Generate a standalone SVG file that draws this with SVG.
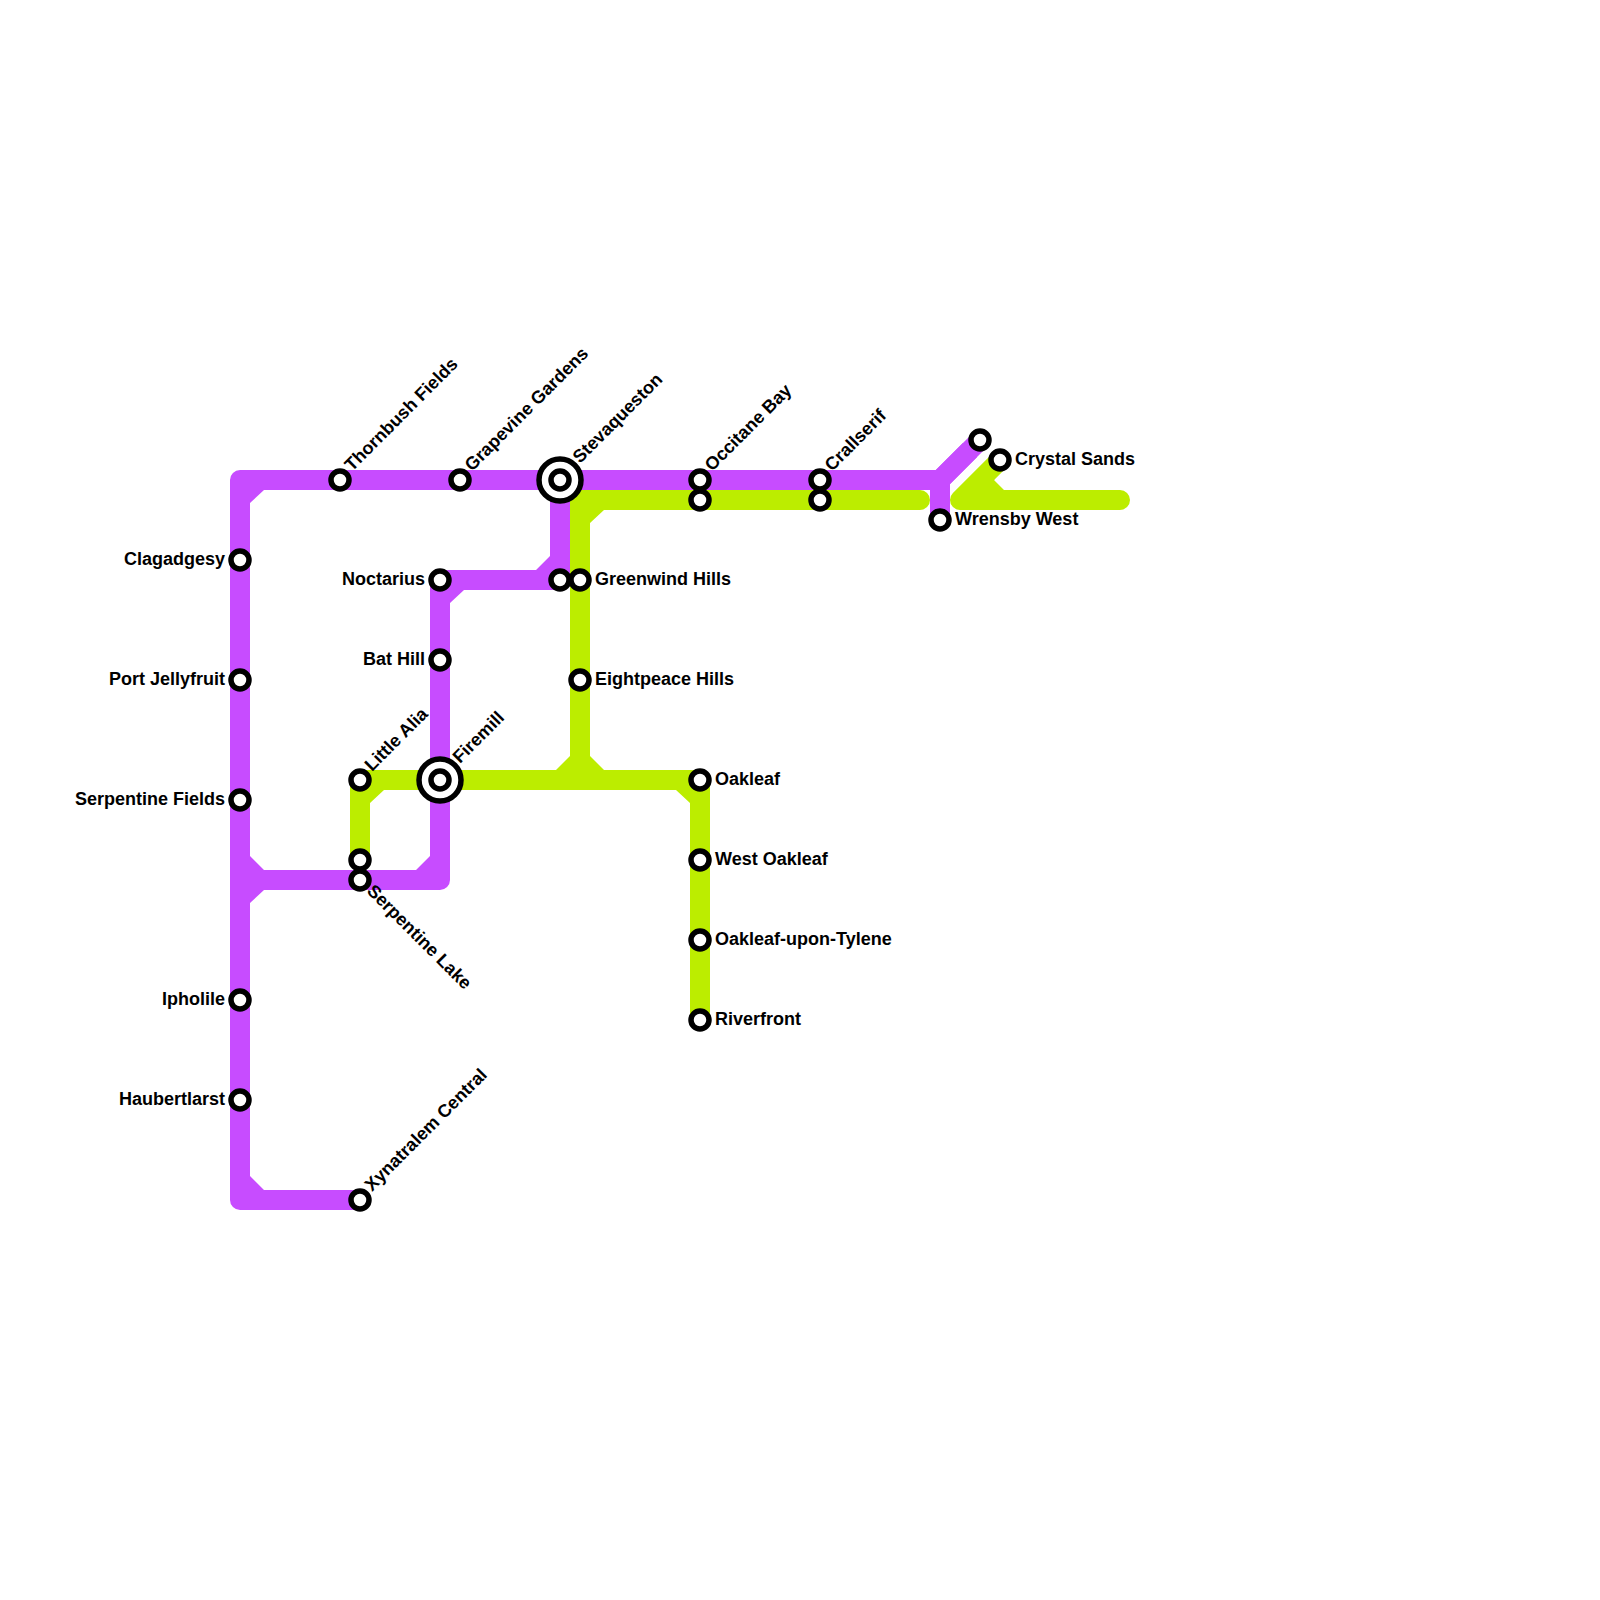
<svg xmlns="http://www.w3.org/2000/svg" width="1600" height="1600" viewBox="0 0 1600 1600">
<style>
.p{fill:none;stroke:#c74cff;stroke-width:20;stroke-linejoin:round}
.g{fill:none;stroke:#bced00;stroke-width:20;stroke-linejoin:round}
.pf{fill:#c74cff}
.gf{fill:#bced00}
.s{fill:#fff;stroke:#000;stroke-width:5.5}
.i{fill:#fff;stroke:#000;stroke-width:5.5}
text{font-family:"Liberation Sans",Arial,sans-serif;font-weight:700;font-size:18px;fill:#000}
.e{text-anchor:end}
</style>
<rect width="1600" height="1600" fill="#fff"/>
<g id="connectors">
<g id="line-purple">
<path class="p" d="M940 480H240V1200H360"/>
<path class="p" d="M240 880H440V580H560V480"/>
<path class="p" d="M970 450L940 480V520" style="stroke-linejoin:miter"/>
<path class="p" d="M940 480L980 440" style="stroke-linecap:butt"/>
<path class="pf" d="M250 490h14l-14 13zM250 856l14 14h-14zM250 903l14-13h-14zM250 1176l14 14h-14zM430 856l-14 14h14zM450 590h14l-14 13zM550 556l-14 14h14zM936 470h-20v20h20z"/>
</g>
<g id="line-green">
<path class="g" d="M920 500H580V780" style="stroke-linecap:round;stroke-linejoin:miter"/>
<path class="g" d="M360 860V780H700V1020"/>
<path class="g" d="M1120 500H960L1000 460" style="stroke-linecap:round;stroke-linejoin:round"/>
<path class="gf" d="M590 510h14l-14 13zM370 790h14l-14 13zM570 756l-14 14h14zM590 756l14 14h-14zM690 790h-14l14 13zM1000 467l-6 13 10 10h-24v-20z"/>
</g>
</g>
<g id="station-clagadgesy"><circle class="s" cx="240" cy="560" r="9"/><text class="e" x="225" y="565">Clagadgesy</text></g>
<g id="station-port-jellyfruit"><circle class="s" cx="240" cy="680" r="9"/><text class="e" x="225" y="685">Port Jellyfruit</text></g>
<g id="station-serpentine-fields"><circle class="s" cx="240" cy="800" r="9"/><text class="e" x="225" y="805">Serpentine Fields</text></g>
<g id="station-ipholile"><circle class="s" cx="240" cy="1000" r="9"/><text class="e" x="225" y="1005">Ipholile</text></g>
<g id="station-haubertlarst"><circle class="s" cx="240" cy="1100" r="9"/><text class="e" x="225" y="1105">Haubertlarst</text></g>
<g id="station-thornbush-fields"><circle class="s" cx="340" cy="480" r="9"/><text transform="translate(352 472) rotate(-45)">Thornbush Fields</text></g>
<g id="station-grapevine-gardens"><circle class="s" cx="460" cy="480" r="9"/><text transform="translate(472 472) rotate(-45)">Grapevine Gardens</text></g>
<g id="station-stevaqueston"><circle class="i" cx="560" cy="480" r="21"/><circle class="s" cx="560" cy="480" r="9"/><text transform="translate(580 464) rotate(-45)">Stevaqueston</text></g>
<g id="station-occitane-bay"><circle class="s" cx="700" cy="480" r="9"/><circle class="s" cx="700" cy="500" r="9"/><text transform="translate(712 472) rotate(-45)">Occitane Bay</text></g>
<g id="station-crallserif"><circle class="s" cx="820" cy="480" r="9"/><circle class="s" cx="820" cy="500" r="9"/><text transform="translate(832 472) rotate(-45)">Crallserif</text></g>
<g id="station-wrensby-west"><circle class="s" cx="940" cy="520" r="9"/><circle class="s" cx="980" cy="440" r="9"/><text x="955" y="525">Wrensby West</text></g>
<g id="station-crystal-sands"><circle class="s" cx="1000" cy="460" r="9"/><text x="1015" y="465">Crystal Sands</text></g>
<g id="station-noctarius"><circle class="s" cx="440" cy="580" r="9"/><text class="e" x="425" y="585">Noctarius</text></g>
<g id="station-bat-hill"><circle class="s" cx="440" cy="660" r="9"/><text class="e" x="425" y="665">Bat Hill</text></g>
<g id="station-greenwind-hills"><circle class="s" cx="560" cy="580" r="9"/><circle class="s" cx="580" cy="580" r="9"/><text x="595" y="585">Greenwind Hills</text></g>
<g id="station-eightpeace-hills"><circle class="s" cx="580" cy="680" r="9"/><text x="595" y="685">Eightpeace Hills</text></g>
<g id="station-little-alia"><circle class="s" cx="360" cy="780" r="9"/><text transform="translate(372 772) rotate(-45)">Little Alia</text></g>
<g id="station-firemill"><circle class="i" cx="440" cy="780" r="21"/><circle class="s" cx="440" cy="780" r="9"/><text transform="translate(460 764) rotate(-45)">Firemill</text></g>
<g id="station-serpentine-lake"><circle class="s" cx="360" cy="860" r="9"/><circle class="s" cx="360" cy="880" r="9"/><text transform="translate(366 892) rotate(45)">Serpentine Lake</text></g>
<g id="station-xynatralem-central"><circle class="s" cx="360" cy="1200" r="9"/><text transform="translate(372 1192) rotate(-45)">Xynatralem Central</text></g>
<g id="station-oakleaf"><circle class="s" cx="700" cy="780" r="9"/><text x="715" y="785">Oakleaf</text></g>
<g id="station-west-oakleaf"><circle class="s" cx="700" cy="860" r="9"/><text x="715" y="865">West Oakleaf</text></g>
<g id="station-oakleaf-upon-tylene"><circle class="s" cx="700" cy="940" r="9"/><text x="715" y="945">Oakleaf-upon-Tylene</text></g>
<g id="station-riverfront"><circle class="s" cx="700" cy="1020" r="9"/><text x="715" y="1025">Riverfront</text></g>
</svg>
